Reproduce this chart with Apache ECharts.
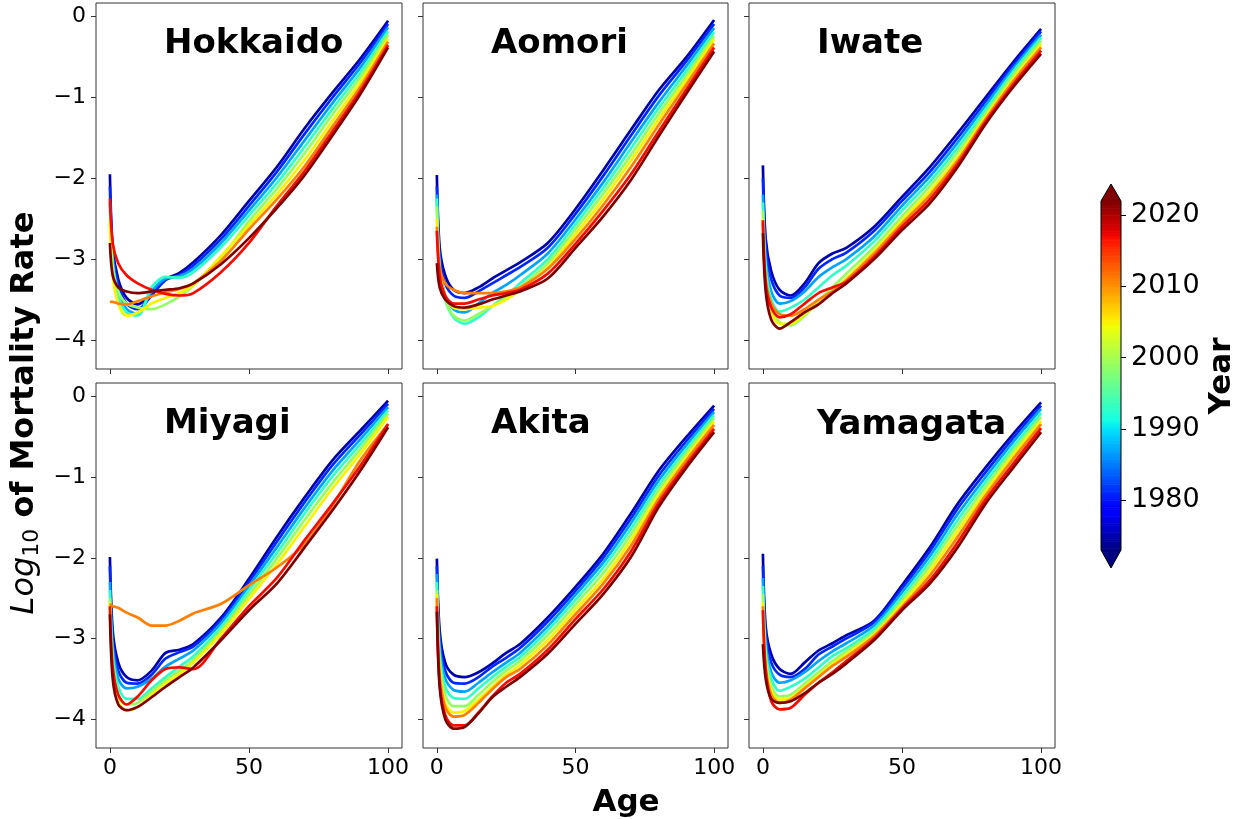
<!DOCTYPE html>
<html><head><meta charset="utf-8">
<script src="https://cdn.jsdelivr.net/npm/echarts@6/dist/echarts.min.js"></script>
<style>html,body{margin:0;padding:0;background:#fff}#c{width:1239px;height:819px}</style>
</head><body><div id="c"></div>
<script>
// ---------- data ----------
const ages = [0, 1, 3, 6, 10, 15, 20, 25, 30, 40, 50, 60, 70, 80, 90, 100];
const years = [1975, 1981, 1987, 1993, 1999, 2005, 2011, 2017, 2022];
const prefectures = ['Hokkaido', 'Aomori', 'Iwate', 'Miyagi', 'Akita', 'Yamagata'];
const xTicks = [0, 50, 100];
const yTicks = [-4, -3, -2, -1, 0];
const cbTicks = [1980, 1990, 2000, 2010, 2020];

const hokkaido = [
  [-1.95, -2.85, -3.25, -3.48, -3.56, -3.42, -3.25, -3.17, -3.04, -2.70, -2.28, -1.86, -1.38, -0.94, -0.52, -0.05],
  [-2.10, -2.92, -3.32, -3.55, -3.62, -3.45, -3.26, -3.20, -3.08, -2.75, -2.34, -1.92, -1.45, -1.00, -0.57, -0.09],
  [-2.30, -3.00, -3.40, -3.62, -3.68, -3.40, -3.24, -3.21, -3.12, -2.80, -2.40, -1.99, -1.53, -1.07, -0.63, -0.13],
  [-2.40, -3.05, -3.45, -3.66, -3.70, -3.35, -3.22, -3.23, -3.16, -2.85, -2.46, -2.06, -1.61, -1.14, -0.69, -0.18],
  [-2.50, -3.10, -3.40, -3.55, -3.60, -3.62, -3.56, -3.46, -3.33, -2.98, -2.53, -2.13, -1.69, -1.21, -0.75, -0.22],
  [-2.55, -3.20, -3.55, -3.70, -3.66, -3.55, -3.48, -3.42, -3.32, -2.96, -2.58, -2.20, -1.77, -1.29, -0.81, -0.27],
  [-3.53, -3.53, -3.55, -3.56, -3.52, -3.46, -3.41, -3.37, -3.30, -3.02, -2.63, -2.26, -1.85, -1.36, -0.87, -0.31],
  [-2.25, -2.80, -3.05, -3.20, -3.30, -3.38, -3.43, -3.45, -3.42, -3.16, -2.80, -2.34, -1.91, -1.42, -0.92, -0.35],
  [-2.80, -3.20, -3.35, -3.40, -3.42, -3.40, -3.38, -3.36, -3.30, -3.06, -2.74, -2.37, -1.96, -1.47, -0.96, -0.38]
];
const aomori = [
  [-1.96, -2.85, -3.20, -3.38, -3.42, -3.35, -3.24, -3.14, -3.04, -2.80, -2.38, -1.90, -1.40, -0.91, -0.50, -0.04],
  [-2.10, -2.95, -3.30, -3.45, -3.48, -3.40, -3.30, -3.20, -3.10, -2.86, -2.44, -1.97, -1.47, -0.98, -0.55, -0.09],
  [-2.20, -3.05, -3.45, -3.62, -3.66, -3.55, -3.42, -3.32, -3.20, -2.93, -2.51, -2.05, -1.55, -1.06, -0.61, -0.14],
  [-2.25, -3.10, -3.50, -3.72, -3.80, -3.72, -3.58, -3.45, -3.30, -3.00, -2.57, -2.12, -1.63, -1.13, -0.67, -0.19],
  [-2.35, -3.15, -3.50, -3.70, -3.76, -3.68, -3.58, -3.48, -3.35, -3.05, -2.63, -2.19, -1.71, -1.20, -0.73, -0.24],
  [-2.50, -3.15, -3.45, -3.60, -3.62, -3.60, -3.58, -3.50, -3.38, -3.10, -2.69, -2.26, -1.78, -1.27, -0.78, -0.28],
  [-2.60, -3.10, -3.30, -3.38, -3.42, -3.42, -3.42, -3.40, -3.35, -3.12, -2.75, -2.33, -1.86, -1.34, -0.84, -0.33],
  [-2.65, -3.20, -3.45, -3.55, -3.55, -3.50, -3.45, -3.42, -3.38, -3.18, -2.81, -2.40, -1.95, -1.42, -0.90, -0.38],
  [-3.05, -3.35, -3.50, -3.58, -3.60, -3.56, -3.50, -3.45, -3.40, -3.24, -2.86, -2.47, -2.02, -1.48, -0.95, -0.43]
];
const iwate = [
  [-1.84, -2.75, -3.15, -3.38, -3.45, -3.30, -3.05, -2.93, -2.86, -2.60, -2.23, -1.86, -1.44, -1.00, -0.56, -0.15],
  [-2.00, -2.85, -3.25, -3.45, -3.48, -3.35, -3.12, -3.00, -2.92, -2.65, -2.28, -1.92, -1.50, -1.05, -0.60, -0.18],
  [-2.20, -3.00, -3.40, -3.55, -3.52, -3.40, -3.22, -3.10, -3.00, -2.72, -2.34, -1.98, -1.56, -1.10, -0.64, -0.22],
  [-2.30, -3.10, -3.50, -3.65, -3.60, -3.50, -3.35, -3.20, -3.08, -2.78, -2.40, -2.04, -1.62, -1.15, -0.68, -0.26],
  [-2.40, -3.20, -3.60, -3.78, -3.82, -3.70, -3.52, -3.35, -3.18, -2.85, -2.47, -2.10, -1.68, -1.20, -0.72, -0.30],
  [-2.50, -3.30, -3.65, -3.80, -3.80, -3.68, -3.55, -3.40, -3.24, -2.90, -2.52, -2.16, -1.74, -1.24, -0.77, -0.34],
  [-2.55, -3.25, -3.55, -3.68, -3.70, -3.62, -3.50, -3.40, -3.26, -2.93, -2.56, -2.21, -1.78, -1.27, -0.80, -0.38],
  [-2.52, -3.30, -3.60, -3.72, -3.68, -3.55, -3.42, -3.35, -3.28, -2.97, -2.60, -2.26, -1.82, -1.30, -0.84, -0.42],
  [-2.68, -3.40, -3.75, -3.86, -3.78, -3.66, -3.56, -3.42, -3.30, -3.00, -2.64, -2.31, -1.86, -1.33, -0.87, -0.46]
];
const miyagi = [
  [-1.99, -2.90, -3.30, -3.48, -3.52, -3.40, -3.18, -3.14, -3.07, -2.74, -2.26, -1.74, -1.25, -0.79, -0.42, -0.05],
  [-2.10, -3.00, -3.40, -3.55, -3.56, -3.45, -3.25, -3.17, -3.10, -2.77, -2.30, -1.80, -1.31, -0.85, -0.47, -0.09],
  [-2.30, -3.10, -3.50, -3.62, -3.60, -3.50, -3.35, -3.25, -3.15, -2.81, -2.35, -1.87, -1.38, -0.92, -0.53, -0.13],
  [-2.40, -3.20, -3.60, -3.75, -3.75, -3.62, -3.48, -3.35, -3.22, -2.86, -2.40, -1.94, -1.45, -0.99, -0.59, -0.17],
  [-2.50, -3.30, -3.70, -3.82, -3.80, -3.66, -3.52, -3.40, -3.27, -2.90, -2.46, -2.01, -1.53, -1.07, -0.65, -0.21],
  [-2.55, -3.40, -3.78, -3.90, -3.85, -3.70, -3.56, -3.44, -3.30, -2.94, -2.51, -2.08, -1.61, -1.14, -0.71, -0.25],
  [-2.57, -2.60, -2.62, -2.68, -2.74, -2.84, -2.84, -2.78, -2.69, -2.57, -2.34, -2.12, -1.83, -1.35, -0.79, -0.34],
  [-2.60, -3.35, -3.70, -3.82, -3.72, -3.52, -3.38, -3.36, -3.38, -3.00, -2.60, -2.25, -1.78, -1.33, -0.86, -0.34],
  [-2.70, -3.50, -3.82, -3.89, -3.85, -3.73, -3.60, -3.48, -3.36, -3.02, -2.65, -2.32, -1.87, -1.41, -0.92, -0.38]
];
const akita = [
  [-2.01, -2.90, -3.30, -3.45, -3.48, -3.42, -3.31, -3.18, -3.07, -2.74, -2.36, -1.95, -1.45, -0.92, -0.50, -0.11],
  [-2.10, -3.00, -3.40, -3.55, -3.56, -3.48, -3.35, -3.24, -3.12, -2.79, -2.41, -2.00, -1.51, -0.98, -0.55, -0.15],
  [-2.20, -3.10, -3.50, -3.64, -3.66, -3.55, -3.42, -3.30, -3.18, -2.85, -2.46, -2.06, -1.57, -1.04, -0.60, -0.19],
  [-2.30, -3.20, -3.60, -3.74, -3.75, -3.62, -3.48, -3.35, -3.23, -2.90, -2.52, -2.12, -1.64, -1.10, -0.65, -0.23],
  [-2.40, -3.30, -3.70, -3.84, -3.84, -3.70, -3.54, -3.40, -3.28, -2.96, -2.58, -2.19, -1.71, -1.16, -0.70, -0.27],
  [-2.45, -3.40, -3.80, -3.92, -3.90, -3.76, -3.60, -3.45, -3.33, -3.02, -2.64, -2.26, -1.78, -1.22, -0.75, -0.31],
  [-2.50, -3.45, -3.85, -3.97, -3.95, -3.80, -3.63, -3.48, -3.38, -3.08, -2.70, -2.32, -1.85, -1.27, -0.79, -0.35],
  [-2.60, -3.55, -3.95, -4.08, -4.08, -3.92, -3.72, -3.55, -3.44, -3.14, -2.76, -2.39, -1.92, -1.32, -0.84, -0.40],
  [-2.67, -3.60, -4.00, -4.12, -4.10, -3.93, -3.73, -3.60, -3.48, -3.19, -2.82, -2.45, -1.99, -1.37, -0.88, -0.44]
];
const yamagata = [
  [-1.95, -2.85, -3.20, -3.38, -3.44, -3.30, -3.15, -3.06, -2.96, -2.78, -2.34, -1.87, -1.33, -0.88, -0.46, -0.07],
  [-2.10, -2.95, -3.30, -3.45, -3.48, -3.38, -3.20, -3.10, -3.00, -2.80, -2.38, -1.92, -1.39, -0.94, -0.51, -0.11],
  [-2.25, -3.05, -3.42, -3.55, -3.52, -3.42, -3.28, -3.16, -3.06, -2.84, -2.43, -1.98, -1.46, -1.00, -0.56, -0.15],
  [-2.35, -3.15, -3.50, -3.65, -3.60, -3.50, -3.36, -3.22, -3.12, -2.88, -2.48, -2.04, -1.53, -1.06, -0.62, -0.20],
  [-2.45, -3.25, -3.60, -3.72, -3.70, -3.56, -3.42, -3.28, -3.16, -2.92, -2.53, -2.10, -1.60, -1.12, -0.67, -0.25],
  [-2.55, -3.30, -3.65, -3.76, -3.74, -3.60, -3.46, -3.32, -3.20, -2.95, -2.57, -2.16, -1.67, -1.18, -0.72, -0.30],
  [-2.60, -3.35, -3.70, -3.80, -3.76, -3.62, -3.48, -3.34, -3.23, -2.97, -2.61, -2.22, -1.74, -1.23, -0.77, -0.34],
  [-2.65, -3.40, -3.78, -3.88, -3.86, -3.70, -3.55, -3.42, -3.28, -3.00, -2.63, -2.28, -1.81, -1.28, -0.83, -0.39],
  [-3.07, -3.50, -3.75, -3.80, -3.78, -3.68, -3.55, -3.44, -3.31, -3.02, -2.65, -2.32, -1.87, -1.33, -0.88, -0.44]
];
const panelData = [hokkaido, aomori, iwate, miyagi, akita, yamagata];

// ---------- colormap (matplotlib jet) ----------
const cbMin = 1973, cbMax = 2022;
function jet(t) {
  t = Math.max(0, Math.min(1, t));
  let r, g, b;
  if (t < 0.35) r = 0; else if (t < 0.66) r = (t - 0.35) / 0.31; else if (t < 0.89) r = 1; else r = 1 - 0.5 * (t - 0.89) / 0.11;
  if (t < 0.125) g = 0; else if (t < 0.375) g = (t - 0.125) / 0.25; else if (t < 0.64) g = 1; else if (t < 0.91) g = 1 - (t - 0.64) / 0.27; else g = 0;
  if (t < 0.11) b = 0.5 + 0.5 * t / 0.11; else if (t < 0.34) b = 1; else if (t < 0.65) b = 1 - (t - 0.34) / 0.31; else b = 0;
  const h = v => Math.round(v * 255);
  return 'rgb(' + h(r) + ',' + h(g) + ',' + h(b) + ')';
}
const yearColor = y => jet((y - cbMin) / (cbMax - cbMin));

// ---------- layout ----------
const FONT = '"DejaVu Sans", sans-serif';
const gridPos = [[96, 3, 306, 366], [423, 3, 305, 366], [749, 3, 306, 366],
                 [96, 383, 306, 365], [423, 383, 305, 365], [749, 383, 306, 365]];
const minus = v => String(v).replace('-', '\u2212');

const grids = [], xAxes = [], yAxes = [], series = [], graphics = [];
gridPos.forEach((p, i) => {
  grids.push({ left: p[0], top: p[1], width: p[2], height: p[3], show: true,
    borderColor: '#333', borderWidth: 1, backgroundColor: 'transparent', containLabel: false });
  const bottomRow = i >= 3, leftCol = i % 3 === 0;
  xAxes.push({ type: 'value', gridIndex: i, min: -5, max: 105, position: 'bottom',
    axisLine: { show: false, onZero: false }, splitLine: { show: false },
    axisTick: { show: true, length: 5, lineStyle: { color: '#333' }, customValues: xTicks },
    axisLabel: { show: bottomRow, customValues: xTicks, fontSize: 22, color: '#000', fontFamily: FONT, margin: 9 } });
  yAxes.push({ type: 'value', gridIndex: i, min: -4.36, max: 0.17, position: 'left',
    axisLine: { show: false, onZero: false }, splitLine: { show: false },
    axisTick: { show: true, length: 5, lineStyle: { color: '#333' }, customValues: yTicks },
    axisLabel: { show: leftCol, customValues: yTicks, fontSize: 22, color: '#000', fontFamily: FONT, margin: 10, formatter: minus } });
  panelData[i].forEach((vals, k) => {
    series.push({ type: 'line', xAxisIndex: i, yAxisIndex: i, showSymbol: false, smooth: 0.3,
      clip: true, silent: true, animation: false,
      lineStyle: { width: 2.7, color: yearColor(years[k]) },
      data: ages.map((a, j) => [a, vals[j]]) });
  });
  graphics.push({ type: 'text', x: p[0] + 68, y: p[1] + 41 + (i === 5 ? 1.5 : 0), z: 100,
    style: { text: prefectures[i], font: 'bold 34px ' + FONT, fill: '#000',
      textAlign: 'left', align: 'left', textVerticalAlign: 'middle', verticalAlign: 'middle' } });
});

// colorbar axis
grids.push({ left: 1101, top: 201, width: 20, height: 349, show: false });
xAxes.push({ type: 'value', gridIndex: 6, min: 0, max: 1, show: false });
yAxes.push({ type: 'value', gridIndex: 6, min: cbMin, max: cbMax, position: 'right',
  axisLine: { show: false, onZero: false }, splitLine: { show: false },
  axisTick: { show: true, length: 5, lineStyle: { color: '#000' }, customValues: cbTicks },
  axisLabel: { customValues: cbTicks, fontSize: 27, color: '#000', fontFamily: FONT, margin: 10, formatter: v => String(v) } });
const cbSteps = [];
for (let v = cbMin; v < cbMax; v += 0.25) cbSteps.push([0, v]);
series.push({ type: 'custom', xAxisIndex: 6, yAxisIndex: 6, silent: true, animation: false,
  data: cbSteps,
  renderItem: (params, api) => {
    const v0 = api.value(1);
    const p0 = api.coord([0, v0]);
    const p1 = api.coord([1, Math.min(cbMax, v0 + 0.25)]);
    return { type: 'rect', shape: { x: p0[0], y: p1[1], width: p1[0] - p0[0], height: p0[1] - p1[1] + 0.6 },
      style: { fill: jet((v0 + 0.125 - cbMin) / (cbMax - cbMin)) } };
  } });

// colorbar extensions + outline
graphics.push({ type: 'polygon', z: 50, shape: { points: [[1101, 201], [1111, 184], [1121, 201]] }, style: { fill: jet(1) } });
graphics.push({ type: 'polygon', z: 50, shape: { points: [[1101, 550], [1111, 568], [1121, 550]] }, style: { fill: jet(0) } });
graphics.push({ type: 'polygon', z: 60, shape: { points: [[1101, 201], [1111, 184], [1121, 201], [1121, 550], [1111, 568], [1101, 550]] },
  style: { fill: 'none', stroke: '#000', lineWidth: 1 } });

// axis titles
graphics.push({ type: 'text', x: 25, y: 413, rotation: Math.PI / 2, z: 100,
  style: { text: '{i|Log}{s|10}{b| of Mortality Rate}', textAlign: 'center', align: 'center',
    textVerticalAlign: 'middle', verticalAlign: 'middle',
    rich: {
      i: { font: 'italic 32px ' + FONT, fill: '#000', lineHeight: 37 },
      s: { font: '22px ' + FONT, fill: '#000', lineHeight: 22, verticalAlign: 'bottom' },
      b: { font: 'bold 32px ' + FONT, fill: '#000', lineHeight: 37 }
    } } });
graphics.push({ type: 'text', x: 626, y: 803, z: 100,
  style: { text: 'Age', font: 'bold 31px ' + FONT, fill: '#000', textAlign: 'center', align: 'center',
    textVerticalAlign: 'middle', verticalAlign: 'middle' } });
graphics.push({ type: 'text', x: 1222, y: 376, rotation: Math.PI / 2, z: 100,
  style: { text: 'Year', font: 'bold 31px ' + FONT, fill: '#000', textAlign: 'center', align: 'center',
    textVerticalAlign: 'middle', verticalAlign: 'middle' } });

const chart = echarts.init(document.getElementById('c'), null, { renderer: 'canvas' });
chart.setOption({ animation: false, backgroundColor: '#fff', grid: grids, xAxis: xAxes, yAxis: yAxes, series: series, graphic: graphics });
</script></body></html>
